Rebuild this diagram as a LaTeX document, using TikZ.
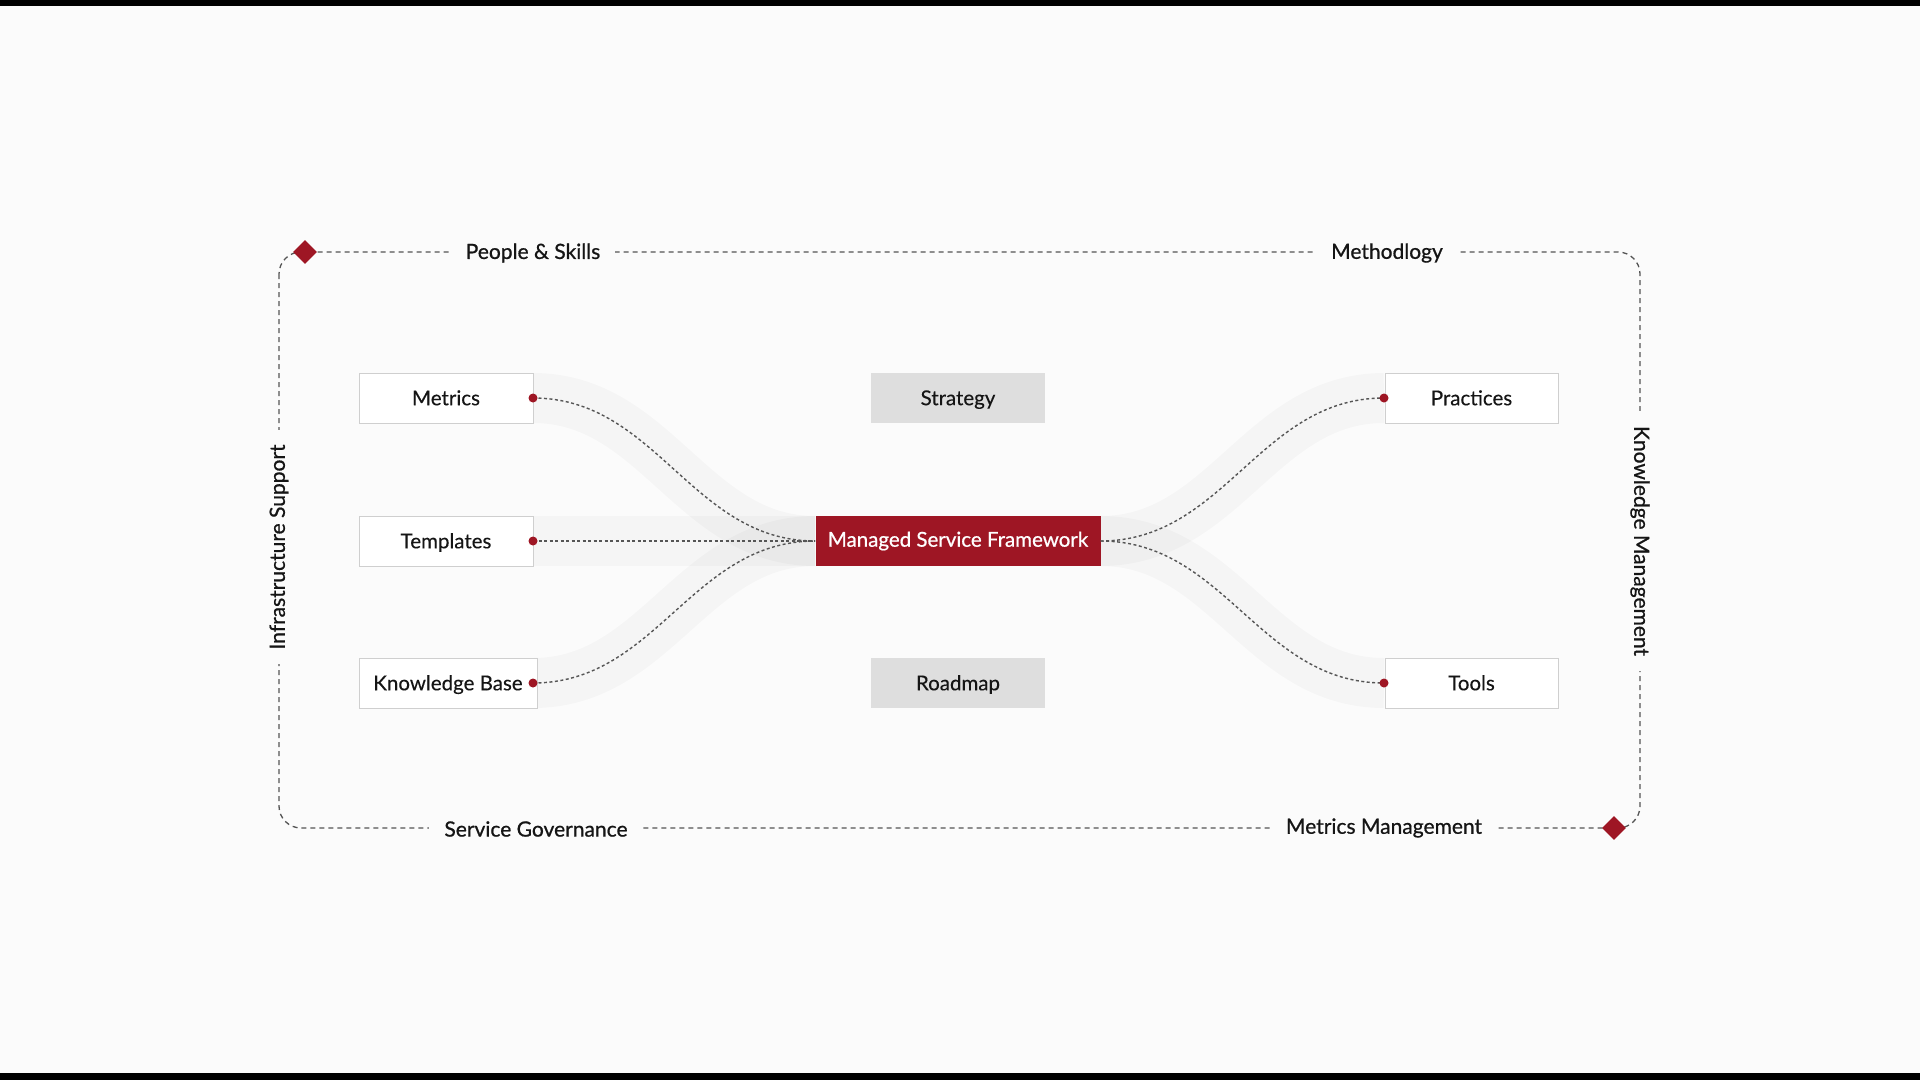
\documentclass[tikz,border=0pt]{standalone}
\usepackage{fontspec}
\setmainfont{Lato}[FakeBold=0.25]
\newfontfamily\semib{Lato}[FakeBold=0.8]
\usetikzlibrary{shapes.geometric}
\pgfdeclarelayer{canvas}
\pgfdeclarelayer{back}
\pgfsetlayers{canvas,back,main}
\definecolor{bg}{HTML}{FBFBFB}
\definecolor{msred}{HTML}{9E1624}
\definecolor{lineg}{HTML}{555555}
\definecolor{ink}{HTML}{151515}
\definecolor{boxline}{HTML}{CFCFCF}
\definecolor{greyfill}{HTML}{DEDEDE}
\tikzset{
  txt/.style={font=\fontsize{20.5}{24}\selectfont, text=ink},
  sidebox/.style={txt, draw=boxline, line width=1pt, fill=white, minimum height=50pt, inner sep=0pt, text depth=0.5pt},
  greybox/.style={txt, fill=greyfill, minimum width=174pt, minimum height=50pt, inner sep=0pt, text depth=0.5pt},
  mainbox/.style={fill=msred, text=white, font=\semib\fontsize{20.5}{24}\selectfont, minimum width=285pt, minimum height=50pt, inner sep=0pt},
  reddot/.style={circle, fill=msred, minimum size=9pt, inner sep=0pt},
  reddiamond/.style={diamond, fill=msred, minimum width=24pt, minimum height=24pt, inner sep=0pt},
  framelabel/.style={font=\semib\fontsize{21}{25}\selectfont, text=ink, fill=bg, inner xsep=15pt, inner ysep=4pt},
  frameline/.style={draw=lineg, line width=1.3pt, dash pattern=on 5pt off 4pt},
  conn/.style={draw=lineg, line width=1.4pt, dash pattern=on 3pt off 2.5pt},
  glow/.style={draw=black, draw opacity=0.024, line width=50pt},
}
\begin{document}
\begin{tikzpicture}[x=1pt,y=-1pt]
\useasboundingbox (0,0) rectangle (1920,1080);
\begin{pgfonlayer}{canvas}
\fill[bg] (0,0) rectangle (1920,1080);
\fill[black] (0,0) rectangle (1920,6);
\fill[black] (0,1073) rectangle (1920,1080);
\end{pgfonlayer}

% frame
\draw[frameline, rounded corners=22pt] (279,252) rectangle (1640,828);

% frame labels
\node[framelabel] (ps) at (533,253) {People \& Skills};
\node[framelabel] (meth) at (1387,253) {Methodlogy};
\node[framelabel] (sg) at (536,829) {Service Governance};
\node[framelabel] (mm) at (1384,828) {Metrics Management};
\node[framelabel, rotate=90] (is) at (279,547) {Infrastructure Support};
\node[framelabel, rotate=-90] (km) at (1640,541) {Knowledge Management};

\node[reddiamond] (d1) at (305,252) {};
\node[reddiamond] (d2) at (1614,828) {};

% boxes
\node[sidebox, minimum width=174pt] (metrics) at (446,398) {Metrics};
\node[sidebox, minimum width=174pt] (templates) at (446,541) {Templates};
\node[sidebox, minimum width=178pt] (kb) at (448,683) {Knowledge Base};
\node[sidebox, minimum width=173pt] (practices) at (1471.5,398) {Practices};
\node[sidebox, minimum width=173pt] (tools) at (1471.5,683) {Tools};
\node[greybox] (strategy) at (958,398) {Strategy};
\node[greybox] (roadmap) at (958,683) {Roadmap};
\node[mainbox] (msf) at (958,541) {Managed Service Framework};

% connectors
\draw[conn] (metrics.east) ++(-0.5,0) coordinate (cm) to[out=0,in=180] (msf.west);
\draw[conn] (templates.east) ++(-0.5,0) coordinate (ct) -- (msf.west);
\draw[conn] (kb.east) ++(-4.5,0) coordinate (ck) to[out=0,in=180] (msf.west);
\draw[conn] (msf.east) to[out=0,in=180] ([xshift=-0.5pt]practices.west) coordinate (cp);
\draw[conn] (msf.east) to[out=0,in=180] ([xshift=-0.5pt]tools.west) coordinate (ctl);

% glow bands behind
\begin{pgfonlayer}{back}
\draw[glow] (cm) to[out=0,in=180] (msf.west);
\draw[glow] (ct) -- (msf.west);
\draw[glow] (ck) to[out=0,in=180] (msf.west);
\draw[glow] (msf.east) to[out=0,in=180] (cp);
\draw[glow] (msf.east) to[out=0,in=180] (ctl);
\end{pgfonlayer}

% dots
\node[reddot] (dm) at (cm) {};
\node[reddot] (dt) at (ct) {};
\node[reddot] (dk) at (ck) {};
\node[reddot] (dp) at (cp) {};
\node[reddot] (dtl) at (ctl) {};
\end{tikzpicture}
\end{document}
